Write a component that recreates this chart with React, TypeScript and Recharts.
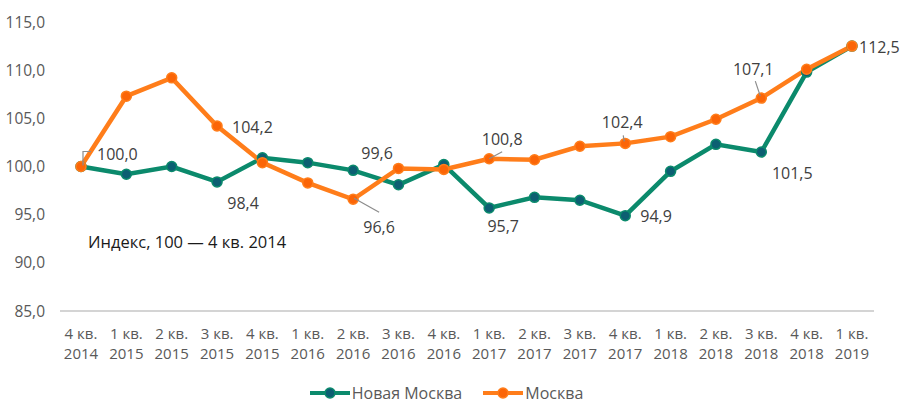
import React from "react";
import { LineChart, Line, XAxis, YAxis, Legend, LabelList } from "recharts";

// Индекс, 100 — 4 кв. 2014
const quarters = ["4 кв.", "1 кв.", "2 кв.", "3 кв.", "4 кв.", "1 кв.", "2 кв.", "3 кв.", "4 кв.", "1 кв.", "2 кв.", "3 кв.", "4 кв.", "1 кв.", "2 кв.", "3 кв.", "4 кв.", "1 кв."];
const years = ["2014", "2015", "2015", "2015", "2015", "2016", "2016", "2016", "2016", "2017", "2017", "2017", "2017", "2018", "2018", "2018", "2018", "2019"];
const newMoscow = [100.0, 99.2, 100.0, 98.4, 100.9, 100.4, 99.6, 98.1, 100.2, 95.7, 96.8, 96.5, 94.9, 99.5, 102.3, 101.5, 109.8, 112.5];
const moscow = [100.0, 107.3, 109.2, 104.2, 100.4, 98.3, 96.6, 99.8, 99.7, 100.8, 100.7, 102.1, 102.4, 103.1, 104.9, 107.1, 110.1, 112.5];
const yTicks = [85, 90, 95, 100, 105, 110, 115];

const GREEN = "#0b8a6c";
const GREEN_DOT = "#0c5f72";
const ORANGE = "#ff7d1a";
const ORANGE_DOT = "#fb6507";
const TEXT = "#595959";
const FONT = "'Open Sans', sans-serif";

const data = quarters.map((q, i) => ({
  period: `${q} ${years[i]}`,
  newMoscow: newMoscow[i],
  moscow: moscow[i],
}));

const fmt = (v: number) => v.toFixed(1).replace(".", ",");

type LabelPos = { dx: number; dy: number; anchor: "start" | "middle" | "end"; leader?: number[] };

// where each shown value label sits relative to its point
const moscowLabels: Record<number, LabelPos> = {
  0: { dx: 16, dy: -13, anchor: "start", leader: [2, -1, 2, -15, 10, -15] },
  3: { dx: 15, dy: 1, anchor: "start" },
  6: { dx: 26, dy: 28, anchor: "middle", leader: [1, -1, 26, 13] },
  9: { dx: 13, dy: -20, anchor: "middle", leader: [0, 0, 13, -7] },
  12: { dx: -3, dy: -21, anchor: "middle", leader: [-1, -2, -2, -8] },
  15: { dx: -8, dy: -29, anchor: "middle", leader: [-6, -17, -1, -2] },
  17: { dx: 7, dy: 1, anchor: "start" },
};
const newMoscowLabels: Record<number, LabelPos> = {
  3: { dx: 26, dy: 21, anchor: "middle" },
  6: { dx: 24, dy: -17, anchor: "middle" },
  9: { dx: 14, dy: 18, anchor: "middle" },
  12: { dx: 15, dy: 0, anchor: "start" },
  15: { dx: 31, dy: 21, anchor: "middle" },
};

const makeLabel = (positions: Record<number, LabelPos>) => (props: any) => {
  const { x, y, value, index } = props;
  const p = positions[index];
  if (!p) return null;
  const pts: string[] = [];
  if (p.leader) {
    for (let k = 0; k < p.leader.length; k += 2) pts.push(`${x + p.leader[k]},${y + p.leader[k + 1]}`);
  }
  return (
    <g>
      {p.leader && <polyline points={pts.join(" ")} fill="none" stroke="#8c8c8c" strokeWidth={1.2} />}
      <text
        x={x + p.dx}
        y={y + p.dy}
        textAnchor={p.anchor}
        dominantBaseline="central"
        fontSize={16}
        fill="#404040"
        fontFamily={FONT}
      >
        {fmt(Number(value))}
      </text>
    </g>
  );
};

const PeriodTick = (props: any) => {
  const { x, y, payload } = props;
  const s = String(payload.value);
  const cut = s.lastIndexOf(" ");
  return (
    <g>
      <text x={x} y={y + 14} textAnchor="middle" dominantBaseline="central" fontSize={15} fill={TEXT} fontFamily={FONT}>
        {s.slice(0, cut)}
      </text>
      <text x={x} y={y + 34} textAnchor="middle" dominantBaseline="central" fontSize={15} fill={TEXT} fontFamily={FONT}>
        {s.slice(cut + 1)}
      </text>
    </g>
  );
};

const LegendIcon = ({ line, dot }: { line: string; dot: string }) => (
  <svg width={42} height={14} style={{ display: "block" }}>
    <line x1={1} y1={7} x2={41} y2={7} stroke={line} strokeWidth={4} />
    <circle cx={21} cy={7} r={5} fill={dot} stroke={line} strokeWidth={1.5} />
  </svg>
);

const ChartLegend = () => (
  <div style={{ display: "flex", justifyContent: "center", alignItems: "center", height: 40, paddingTop: 8, paddingLeft: 18, boxSizing: "border-box", fontFamily: FONT, fontSize: 16, color: TEXT }}>
    <div style={{ display: "flex", alignItems: "center", marginRight: 20 }}>
      <LegendIcon line={GREEN} dot={GREEN_DOT} />
      <span style={{ marginLeft: 1 }}>Новая Москва</span>
    </div>
    <div style={{ display: "flex", alignItems: "center" }}>
      <LegendIcon line={ORANGE} dot={ORANGE_DOT} />
      <span style={{ marginLeft: 1 }}>Москва</span>
    </div>
  </div>
);

export default function App() {
  return (
    <div style={{ position: "absolute", left: 0, top: 0, width: 901, height: 409, background: "#fff", fontFamily: FONT }}>
      <LineChart width={901} height={409} data={data} margin={{ top: 22, right: 27, left: 0, bottom: 0 }}>
        <XAxis
          dataKey="period"
          interval={0}
          tickLine={false}
          axisLine={{ stroke: "#d4d4d4", strokeWidth: 2 }}
          padding={{ left: 21, right: 22 }}
          height={58}
          tick={<PeriodTick />}
        />
        <YAxis
          domain={[85, 115]}
          ticks={yTicks}
          tickFormatter={fmt}
          axisLine={false}
          tickLine={false}
          width={60}
          tickMargin={9}
          tick={{ fill: TEXT, fontSize: 15.5, fontFamily: FONT }}
        />
        <Legend verticalAlign="bottom" height={40} content={<ChartLegend />} />
        <Line
          type="linear"
          dataKey="newMoscow"
          name="Новая Москва"
          stroke={GREEN}
          strokeWidth={4.5}
          dot={{ r: 5, fill: GREEN_DOT, stroke: GREEN, strokeWidth: 1.5 }}
          activeDot={false}
          isAnimationActive={false}
        >
          <LabelList dataKey="newMoscow" content={makeLabel(newMoscowLabels)} />
        </Line>
        <Line
          type="linear"
          dataKey="moscow"
          name="Москва"
          stroke={ORANGE}
          strokeWidth={4.5}
          dot={{ r: 5, fill: ORANGE_DOT, stroke: ORANGE, strokeWidth: 1.5 }}
          activeDot={false}
          isAnimationActive={false}
        >
          <LabelList dataKey="moscow" content={makeLabel(moscowLabels)} />
        </Line>
      </LineChart>
      <div style={{ position: "absolute", left: 88, top: 230, fontSize: 16.5, color: "#1a1a1a", fontFamily: FONT, whiteSpace: "nowrap" }}>
        Индекс, 100 — 4 кв. 2014
      </div>
    </div>
  );
}
